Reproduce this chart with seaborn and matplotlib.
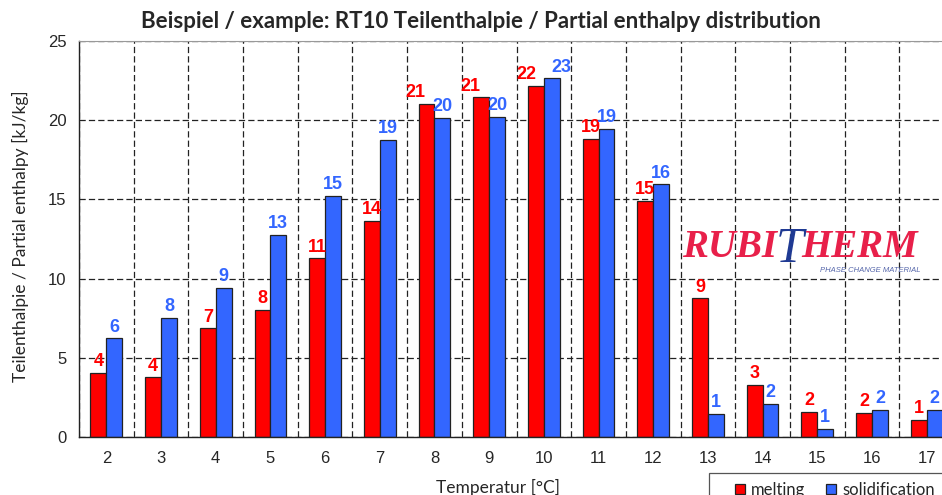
import numpy as np
import pandas as pd
import matplotlib
matplotlib.use('Agg')
import matplotlib.pyplot as plt
import seaborn as sns
from matplotlib.patches import Rectangle

# values (kJ/kg per 1 K interval)
temperatures = ["2", "3", "4", "5", "6", "7", "8", "9", "10", "11", "12", "13", "14", "15", "16", "17"]
melting = [4.05, 3.77, 6.86, 8.02, 11.28, 13.64, 21.02, 21.44, 22.18, 18.81, 14.92, 8.75, 3.28, 1.58, 1.52, 1.07]
solidification = [6.23, 7.51, 9.39, 12.75, 15.21, 18.75, 20.14, 20.2, 22.64, 19.44, 15.95, 1.45, 2.1, 0.52, 1.7, 1.7]
series_names = ["melting", "solidification"]
y_ticks = [0, 5, 10, 15, 20, 25]

red = "#FF0000"
blue = "#3366FF"

df = pd.DataFrame({
    "Temperatur": temperatures * 2,
    "series": [series_names[0]] * len(melting) + [series_names[1]] * len(solidification),
    "value": melting + solidification,
})

sns.set_style("white")
plt.rcParams['font.family'] = ['Liberation Sans', 'DejaVu Sans']

fig = plt.figure(figsize=(9.42, 4.95), dpi=100)
W, H = 942, 495
ax = fig.add_axes([79 / W, 1 - 437 / H, (954 - 79) / W, (437 - 41) / H])

sns.barplot(data=df, x="Temperatur", y="value", hue="series", order=temperatures,
            hue_order=series_names, palette={"melting": red, "solidification": blue},
            width=0.58, edgecolor="#222222", linewidth=0.9, saturation=1, ax=ax, zorder=3)
ax.get_legend().remove()

ax.set_xlim(-0.5, len(temperatures) - 0.5)
ax.set_ylim(0, 25)
ax.set_yticks(y_ticks)
ax.set_xticks(np.arange(-0.5, len(temperatures)), minor=True)
ax.tick_params(axis='x', which='major', length=0, pad=10, labelsize=12)
ax.tick_params(axis='x', which='minor', length=5, direction='out', color='#222222', width=1)
ax.tick_params(axis='y', which='major', length=5, direction='out', color='#222222', width=1,
               labelsize=12, pad=4)
ax.grid(False)
ax.grid(which='minor', axis='x', color='#222222', linestyle=(0, (5, 2.5)), linewidth=0.9, zorder=1)
ax.grid(which='major', axis='y', color='#222222', linestyle=(0, (5, 2.5)), linewidth=0.9, zorder=1)
ax.set_axisbelow(True)
ax.set_xlabel("")
ax.set_ylabel("")

for side in ["left", "bottom"]:
    ax.spines[side].set_color("#222222")
    ax.spines[side].set_linewidth(1)
ax.spines["top"].set_color("#999999")
ax.spines["top"].set_linewidth(0.8)
ax.spines["right"].set_visible(False)
for s in ax.spines.values():
    s.set_zorder(4)

# value labels; a few were nudged sideways in the original so they don't collide
nudge = {(0, 6): -8, (0, 7): -8, (0, 8): -7, (1, 8): 7}
for si, (cont, col) in enumerate(zip(ax.containers, [red, blue])):
    for ci, bar in enumerate(cont):
        h = bar.get_height()
        ax.annotate(f"{h:.0f}", (bar.get_x() + bar.get_width() / 2, h),
                    xytext=(nudge.get((si, ci), 0), 2), textcoords="offset points",
                    ha="center", va="bottom", color=col, fontsize=13, fontweight="bold",
                    zorder=5, annotation_clip=False)

fig.text(481 / W, 1 - 21 / H, "Beispiel / example: RT10 Teilenthalpie / Partial enthalpy distribution",
         ha="center", va="center", fontsize=16, fontweight="bold", family=["Lato", "DejaVu Sans"])
fig.text(20 / W, 1 - 236 / H, "Teilenthalpie / Partial enthalpy [kJ/kg]", rotation=90,
         ha="center", va="center", fontsize=12.5, family=["Lato", "DejaVu Sans"])
fig.text(498 / W, 1 - 487 / H, "Temperatur [°C]", ha="center", va="center",
         fontsize=12.5, family=["Lato", "DejaVu Sans"])

# logo (decoration)
logo_red = "#E8204A"
logo_blue = "#1F3A93"
fig.text(777 / W, 1 - 257 / H, "RUBI", ha="right", va="baseline", color=logo_red,
         fontsize=28, fontweight="bold", style="italic", family=["Liberation Serif"])
fig.text(790 / W, 1 - 262 / H, "T", ha="center", va="baseline", color=logo_blue,
         fontsize=36, style="italic", family=["Liberation Serif"])
fig.text(801 / W, 1 - 257 / H, "HERM", ha="left", va="baseline", color=logo_red,
         fontsize=28, fontweight="bold", style="italic", family=["Liberation Serif"])
fig.text(920 / W, 1 - 272 / H, "PHASE CHANGE MATERIAL", ha="right", va="baseline", color="#5566AA",
         fontsize=5.5, style="italic", family=["Liberation Sans"])

# legend box runs off the bottom/right edge like in the original
fig.add_artist(Rectangle((709 / W, -0.05), 0.3, (495 - 473) / H + 0.05, transform=fig.transFigure,
                         facecolor="white", edgecolor="#555555", linewidth=0.9, zorder=6))
handles = [Rectangle((0, 0), 1, 1, facecolor=red, edgecolor="#222222", linewidth=0.9),
           Rectangle((0, 0), 1, 1, facecolor=blue, edgecolor="#222222", linewidth=0.9)]
leg = fig.legend(handles, series_names, loc="center left", bbox_to_anchor=(723 / W, 1 - 490 / H),
                 ncol=2, frameon=False, handlelength=0.6, handleheight=0.6, handletextpad=0.35,
                 columnspacing=1.3, borderpad=0.2,
                 prop={"family": ["Lato", "DejaVu Sans"], "size": 12})
leg.set_zorder(7)

fig.savefig("out.png", dpi=100)
